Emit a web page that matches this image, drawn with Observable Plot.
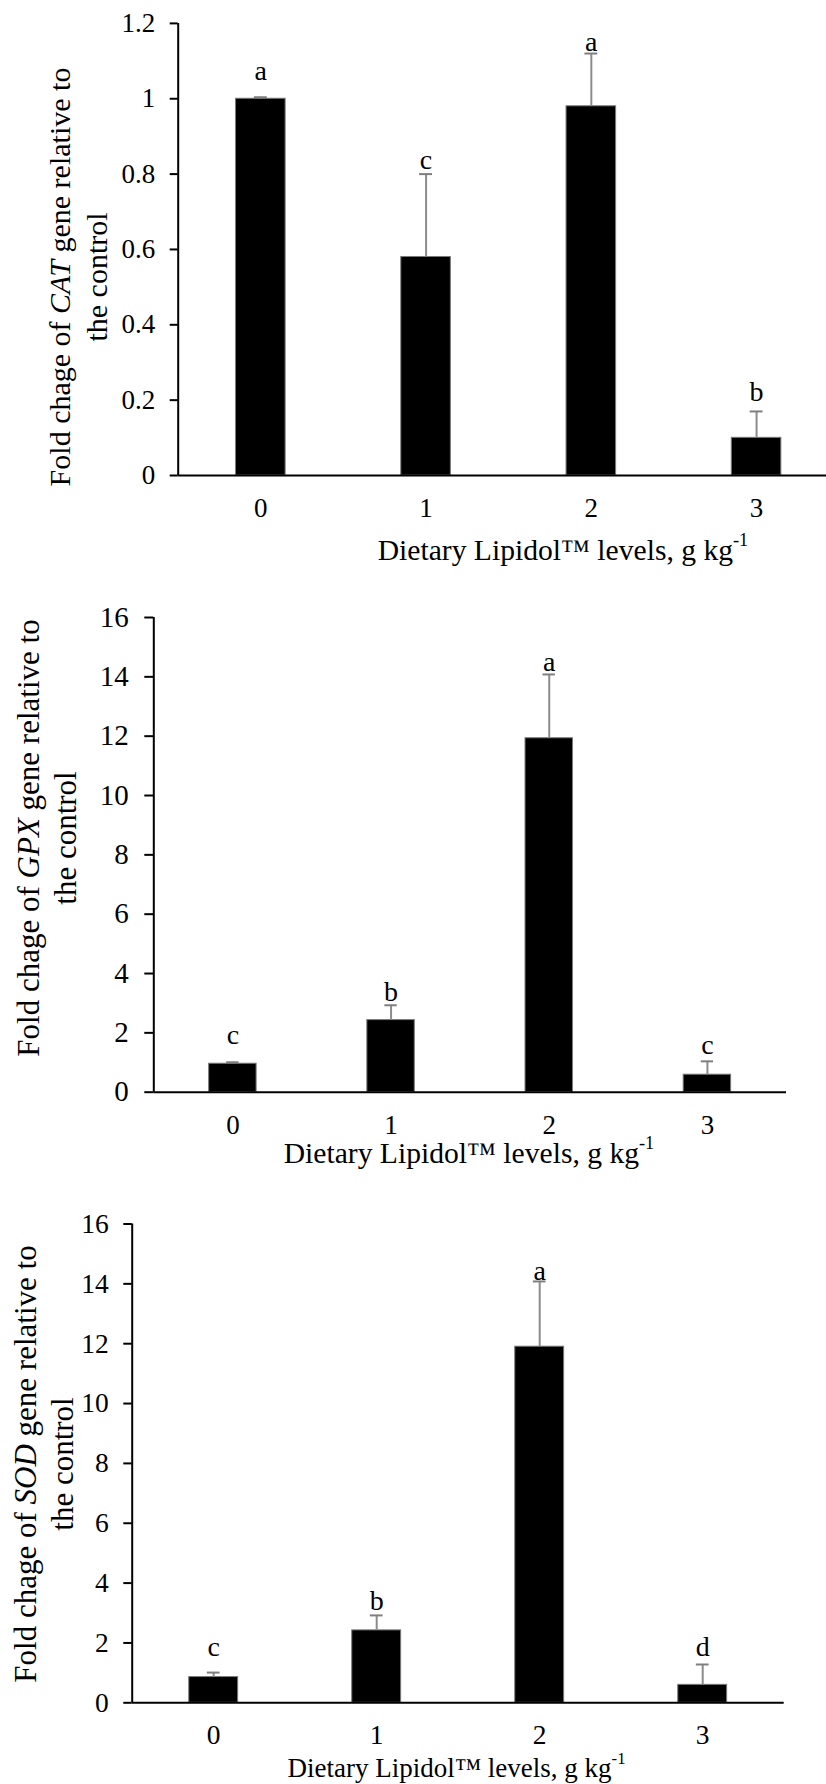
<!DOCTYPE html>
<html>
<head>
<meta charset="utf-8">
<script src="https://cdn.jsdelivr.net/npm/d3@7"></script>
<script src="https://cdn.jsdelivr.net/npm/@observablehq/plot@0.6"></script>
<style>
  html, body { margin: 0; padding: 0; background: #fff; }
  #wrap { position: relative; width: 826px; height: 1784px; overflow: hidden; }
  .panel { position: absolute; left: 0; }
</style>
</head>
<body>
<div id="wrap"></div>
<script>
const FONT = "'Liberation Serif', 'Times New Roman', serif";

// ---- data ----
const categories = [0, 1, 2, 3];

const catMean = [1.0, 0.58, 0.98, 0.10];
const catErr = [0.004, 0.22, 0.14, 0.07];
const catLetters = ["a", "c", "a", "b"];
const catLetterY = [1.051, 0.814, 1.126, 0.199];
const catTicks = [0, 0.2, 0.4, 0.6, 0.8, 1, 1.2];

const gpxMean = [0.96, 2.43, 11.93, 0.59];
const gpxErr = [0.05, 0.50, 2.15, 0.45];
const gpxLetters = ["c", "b", "a", "c"];
const gpxLetterY = [1.64, 3.09, 14.2, 1.29];
const gpxTicks = [0, 2, 4, 6, 8, 10, 12, 14, 16];

const sodMean = [0.86, 2.42, 11.9, 0.60];
const sodErr = [0.15, 0.50, 2.18, 0.68];
const sodLetters = ["c", "b", "a", "d"];
const sodLetterY = [1.55, 3.09, 14.14, 1.58];
const sodTicks = [0, 2, 4, 6, 8, 10, 12, 14, 16];

const xTitle = "Dietary Lipidol\u2122 levels, g kg";
const xTitleSup = "-1";

function rows(mean, err, letters, letterY) {
  return categories.map((c, i) => ({cat: c, mean: mean[i], upper: mean[i] + err[i], letter: letters[i], ly: letterY[i]}));
}

const panels = [
  {gene: "CAT", data: rows(catMean, catErr, catLetters, catLetterY), ticks: catTicks, top: 0, height: 580,
   mt: 22.9, mb: 105, ml: 177.7, mr: 0, xr: [177.7, 838.7], tickFs: 27, xTickFs: 27, tickSize: 8, tickPad: 15,
   yt: {x1: 60.6, x2: 97.5, cy: 277, fs: 30}, xt: {cx: 563, by: 560, fs: 29.6}, xTickPad: 22},
  {gene: "GPX", data: rows(gpxMean, gpxErr, gpxLetters, gpxLetterY), ticks: gpxTicks, top: 580, height: 610,
   mt: 37, mb: 98.3, ml: 153.3, mr: 40, xr: [153.3, 786], tickFs: 29, xTickFs: 27, tickSize: 9, tickPad: 16,
   yt: {x1: 29, x2: 66, cy: 258, fs: 31}, xt: {cx: 469, by: 583, fs: 29.6}, xTickPad: 23},
  {gene: "SOD", data: rows(sodMean, sodErr, sodLetters, sodLetterY), ticks: sodTicks, top: 1190, height: 594,
   mt: 33.5, mb: 81.7, ml: 131.7, mr: 42.3, xr: [131.7, 783.7], tickFs: 27.5, xTickFs: 27.5, tickSize: 8.4, tickPad: 15,
   yt: {x1: 26, x2: 63, cy: 274, fs: 31}, xt: {cx: 456.5, by: 586.7, fs: 27}, xTickPad: 22}
];

const wrap = document.getElementById("wrap");

for (const p of panels) {
  const ymax = p.ticks[p.ticks.length - 1];
  const svg = Plot.plot({
    width: 826,
    height: p.height,
    marginTop: p.mt,
    marginBottom: p.mb,
    marginLeft: p.ml,
    marginRight: p.mr,
    style: {fontFamily: FONT, color: "black", background: "white", overflow: "visible"},
    x: {type: "linear", domain: [-0.5, 3.5], range: p.xr},
    y: {domain: [0, ymax]},
    marks: [
      Plot.rectY(p.data, {x1: d => d.cat - 0.15, x2: d => d.cat + 0.15, y1: 0, y2: "mean", fill: "black", stroke: "#7a7a7a", strokeWidth: 1}),
      Plot.ruleX(p.data, {x: "cat", y1: "mean", y2: "upper", stroke: "#8c8c8c", strokeWidth: 2}),
      Plot.ruleY(p.data, {y: "upper", x1: d => d.cat - 0.039, x2: d => d.cat + 0.039, stroke: "#7f7f7f", strokeWidth: 2}),
      Plot.text(p.data, {x: "cat", y: "ly", text: "letter", lineAnchor: "bottom", fontSize: 28, fontFamily: FONT, fill: "black"}),
      Plot.ruleX([-0.5], {stroke: "black", strokeWidth: 2}),
      Plot.ruleY([0], {stroke: "black", strokeWidth: 2}),
      Plot.axisY(p.ticks, {tickSize: p.tickSize, tickPadding: p.tickPad, strokeWidth: 2, fontSize: p.tickFs, fontFamily: FONT, fill: "black", stroke: "black", label: null, tickFormat: d => String(Math.round(d * 10) / 10)}),
      Plot.axisX(categories, {tickSize: 0, tickPadding: p.xTickPad, fontSize: p.xTickFs, fontFamily: FONT, fill: "black", label: null, tickFormat: d => String(d)})
    ]
  });

  const s = d3.select(svg);
  // y-axis title (two lines, rotated)
  const g = s.append("g").attr("font-family", FONT).attr("font-size", p.yt.fs).attr("fill", "black");
  const t1 = g.append("text")
    .attr("transform", `translate(${p.yt.x1},${p.yt.cy}) rotate(-90)`)
    .attr("text-anchor", "middle").attr("dy", "0.32em");
  t1.append("tspan").text("Fold chage of ");
  t1.append("tspan").attr("font-style", "italic").text(p.gene);
  t1.append("tspan").text(" gene relative to");
  g.append("text")
    .attr("transform", `translate(${p.yt.x2},${p.yt.cy}) rotate(-90)`)
    .attr("text-anchor", "middle").attr("dy", "0.32em")
    .text("the control");

  // x-axis title
  const xt = s.append("text")
    .attr("x", p.xt.cx).attr("y", p.xt.by)
    .attr("text-anchor", "middle")
    .attr("font-family", FONT).attr("font-size", p.xt.fs).attr("fill", "black");
  xt.append("tspan").text(xTitle);
  xt.append("tspan").attr("font-size", "0.62em").attr("dy", "-0.75em").text(xTitleSup);

  const div = document.createElement("div");
  div.className = "panel";
  div.style.top = p.top + "px";
  div.appendChild(svg);
  wrap.appendChild(div);
}
</script>
</body>
</html>
